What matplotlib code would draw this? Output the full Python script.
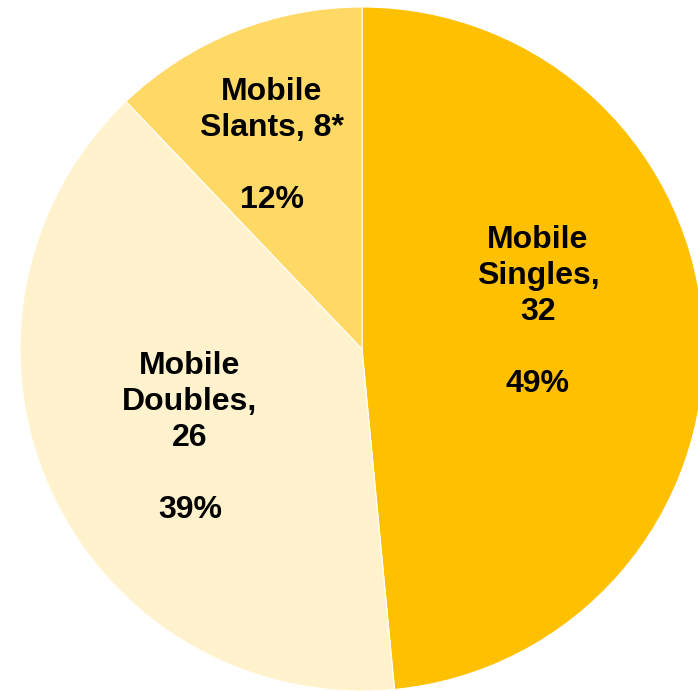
import matplotlib.pyplot as plt

categories = ["Mobile\nSingles,", "Mobile\nDoubles,", "Mobile\nSlants,"]
counts = [32, 26, 8]
count_suffix = ["", "", "*"]
pct_labels = [49, 39, 12]
colors = ["#FFC000", "#FFF2CC", "#FFD966"]

# pixel geometry of the pie within the 698x691 canvas
W, H = 698, 691
CX, CY, R = 362, H - 349, 342
# label block centres (pixel offsets from the pie centre, y up)
label_xy = [(176, 37), (-172, -89), (-90, 203)]

fig = plt.figure(figsize=(W / 100, H / 100), dpi=100)
ax = fig.add_axes([0, 0, 1, 1])
ax.pie(counts, colors=colors, startangle=90, counterclock=False,
       center=(CX, CY), radius=R,
       wedgeprops=dict(edgecolor="white", linewidth=0.8))
ax.set_xlim(0, W)
ax.set_ylim(0, H)
ax.set_aspect("equal")
ax.axis("off")

for name, n, suf, pct, (dx, dy) in zip(categories, counts, count_suffix,
                                       pct_labels, label_xy):
    if suf:
        txt = f"{name} {n}{suf}\n\n{pct}%"
    else:
        txt = f"{name}\n{n}\n\n{pct}%"
    ax.text(CX + dx, CY + dy, txt, ha="center", va="center",
            fontsize=23, fontweight="bold", family="Liberation Sans",
            linespacing=1.27, color="black")

fig.savefig("out.png", dpi=100)
